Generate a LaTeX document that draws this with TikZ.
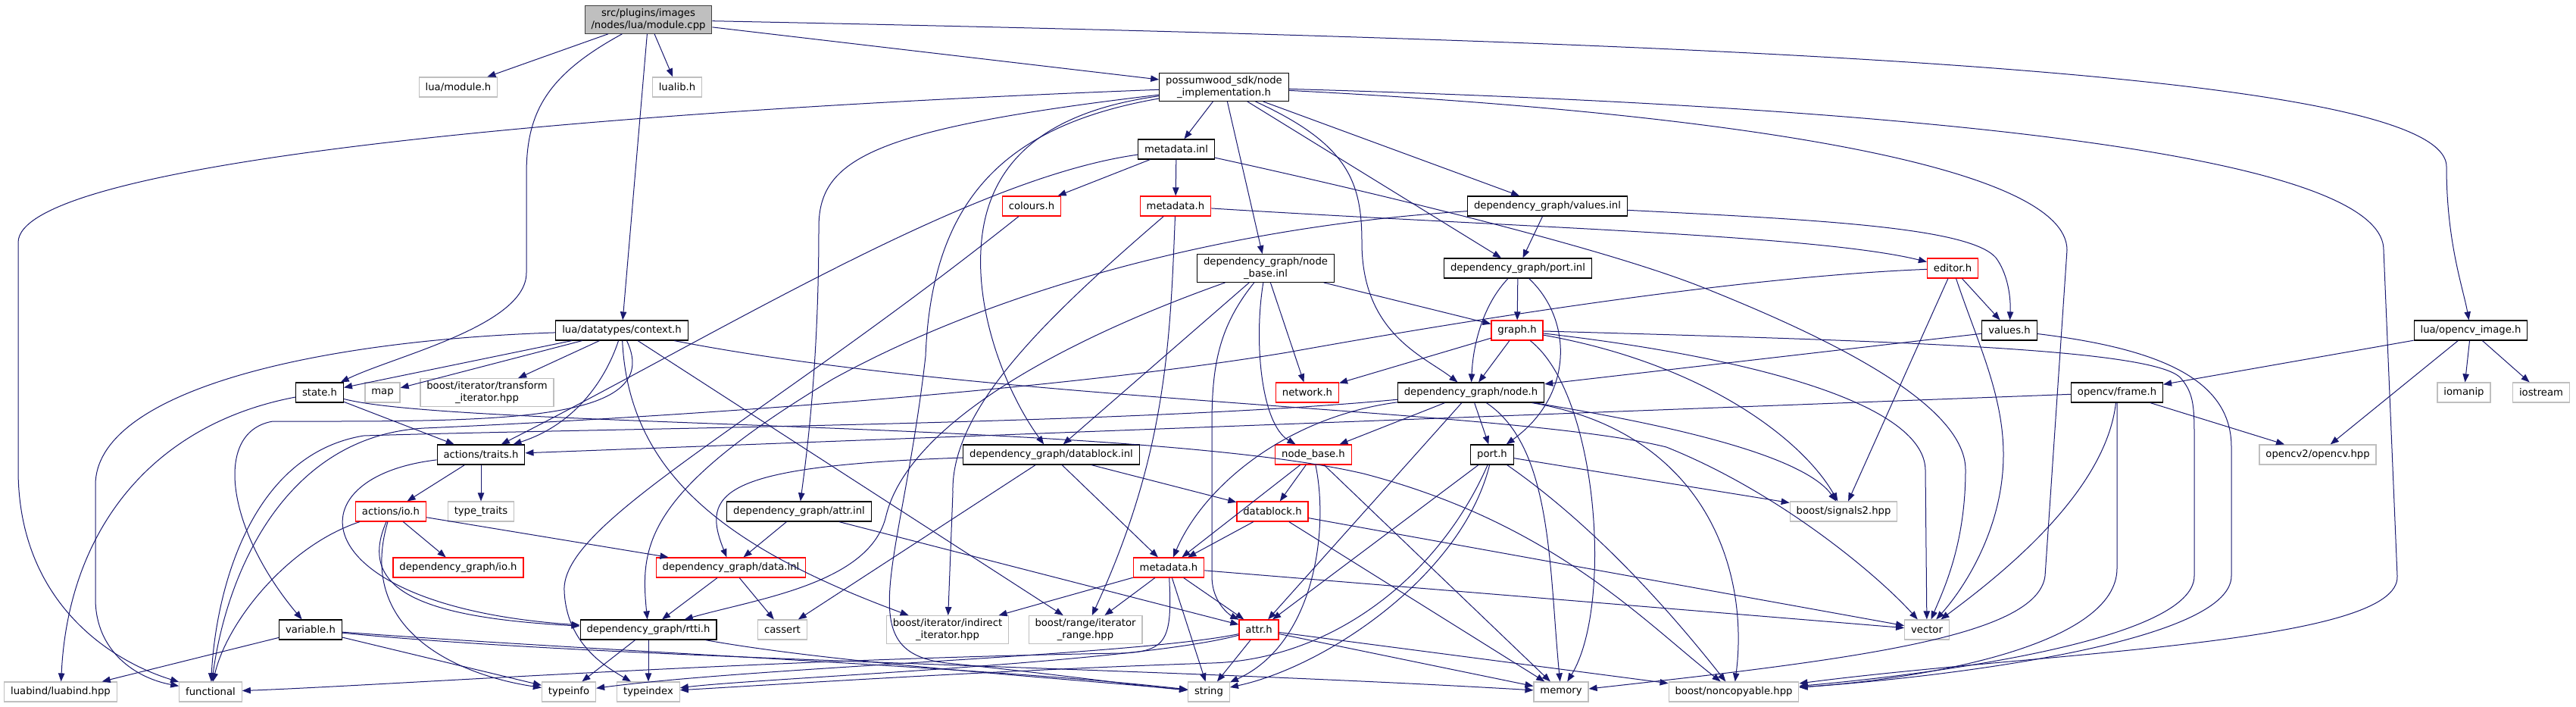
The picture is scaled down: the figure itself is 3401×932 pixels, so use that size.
\documentclass[tikz,border=0pt]{standalone}
\usepackage{xcolor}
\usepackage{fontspec}
\setmainfont{DejaVu Sans}
\usepackage{tikz}
\usetikzlibrary{arrows.meta}
\definecolor{edgeblue}{RGB}{25, 25, 112}
\definecolor{extgrey}{RGB}{191, 191, 191}
\definecolor{rootfill}{RGB}{191, 191, 191}
\definecolor{rootline}{RGB}{64, 64, 64}
\definecolor{incred}{RGB}{255, 0, 0}

\begin{document}
\begin{tikzpicture}[x=0.5pt,y=-0.5pt,
  hdr/.style={rectangle,fill=white,line width=0.6pt,inner xsep=4.2pt,inner ysep=2pt,minimum height=13pt,align=center,font=\fontsize{6.6}{7.8}\selectfont},
  doc/.style={hdr,draw=black},
  inc/.style={hdr,draw=incred},
  ext/.style={hdr,draw=extgrey},
  root/.style={hdr,draw=rootline,fill=rootfill},
  dep/.style={draw=edgeblue,line width=0.5pt,-{Triangle[length=5.5pt,width=4.2pt]}}]
\fill[white] (0,0) rectangle (3401,932);
\useasboundingbox (0,0) rectangle (3401,932);

\node[root] (main) at (856,26) {src/plugins/images\\/nodes/lua/module.cpp};
\node[ext] (lmod) at (605,115) {lua/module.h};
\node[ext] (lualib) at (894,115) {lualib.h};
\node[doc] (ni) at (1616,115) {possumwood\_sdk/node\\\_implementation.h};
\node[doc] (mi) at (1553,197) {metadata.inl};
\node[inc] (col) at (1362,272) {colours.h};
\node[inc] (m1) at (1552,272) {metadata.h};
\node[doc] (vi) at (2043,272) {dependency\_graph/values.inl};
\node[doc] (nbi) at (1671,354) {dependency\_graph/node\\\_base.inl};
\node[doc] (pi) at (2004,354) {dependency\_graph/port.inl};
\node[inc] (ed) at (2578,354) {editor.h};
\node[doc] (ctx) at (821,436) {lua/datatypes/context.h};
\node[inc] (gr) at (2003,436) {graph.h};
\node[doc] (vh) at (2653,436) {values.h};
\node[doc] (ocv) at (3262,436) {lua/opencv\_image.h};
\node[doc] (st) at (422,518) {state.h};
\node[ext] (map) at (505,518) {map};
\node[ext] (ti) at (643,518) {boost/iterator/transform\\\_iterator.hpp};
\node[inc] (net) at (1726,518) {network.h};
\node[doc] (nh) at (1942,518) {dependency\_graph/node.h};
\node[doc] (fr) at (2795,518) {opencv/frame.h};
\node[ext] (iom) at (3253,518) {iomanip};
\node[ext] (ios) at (3355,518) {iostream};
\node[doc] (tr) at (635,600) {actions/traits.h};
\node[doc] (dbi) at (1388,600) {dependency\_graph/datablock.inl};
\node[inc] (nb) at (1734,600) {node\_base.h};
\node[doc] (ph) at (1970,600) {port.h};
\node[ext] (cv2) at (3060,600) {opencv2/opencv.hpp};
\node[inc] (aio) at (516,675) {actions/io.h};
\node[ext] (tt) at (635,675) {type\_traits};
\node[doc] (ai) at (1055,675) {dependency\_graph/attr.inl};
\node[inc] (db) at (1680,675) {datablock.h};
\node[ext] (sig) at (2434,675) {boost/signals2.hpp};
\node[inc] (dio) at (605,749) {dependency\_graph/io.h};
\node[inc] (di) at (965,749) {dependency\_graph/data.inl};
\node[inc] (m2) at (1543,749) {metadata.h};
\node[doc] (var) at (410,831) {variable.h};
\node[doc] (rt) at (856,831) {dependency\_graph/rtti.h};
\node[ext] (cas) at (1033,831) {cassert};
\node[ext] (ii) at (1251,831) {boost/iterator/indirect\\\_iterator.hpp};
\node[ext] (ir) at (1433,831) {boost/range/iterator\\\_range.hpp};
\node[inc] (at) at (1662,831) {attr.h};
\node[ext] (vec) at (2544,831) {vector};
\node[ext] (lb) at (80,913) {luabind/luabind.hpp};
\node[ext] (fn) at (278,913) {functional};
\node[ext] (tinfo) at (751,913) {typeinfo};
\node[ext] (tidx) at (856,913) {typeindex};
\node[ext] (str) at (1596,913) {string};
\node[ext] (mem) at (2061,913) {memory};
\node[ext] (nc) at (2289,913) {boost/noncopyable.hpp};

% module.cpp
\draw[dep] (main) -- (lmod);
\draw[dep] (main) -- (lualib);
\draw[dep] (main) -- (ni);
\draw[dep] (main) -- (ctx);
\draw[dep] (main) .. controls (720,100) and (695,150) .. (695,230) -- (695,360) .. controls (695,430) and (520,470) .. (st);
\draw[dep] (main) .. controls (2300,55) and (3230,95) .. (3230,220) .. controls (3230,320) and (3252,380) .. (ocv);

% node_implementation.h
\draw[dep] (ni) .. controls (700,150) and (24,220) .. (24,320) -- (24,620) .. controls (24,790) and (140,870) .. (fn);
\draw[dep] (ni) .. controls (1150,170) and (1081,210) .. (1081,300) .. controls (1081,480) and (1065,600) .. (ai);
\draw[dep] (ni) .. controls (1330,165) and (1230,260) .. (1222,470) .. controls (1190,750) and (1120,860) .. (1250,875) .. controls (1400,890) and (1500,905) .. (str);
\draw[dep] (ni) .. controls (1360,150) and (1300,230) .. (1295,330) .. controls (1290,420) and (1330,520) .. (dbi);
\draw[dep] (ni) -- (mi);
\draw[dep] (ni) -- (nbi);
\draw[dep] (ni) .. controls (1780,190) and (1798,240) .. (1798,320) .. controls (1798,440) and (1880,470) .. (nh);
\draw[dep] (ni) -- (vi);
\draw[dep] (ni) -- (pi);
\draw[dep] (ni) .. controls (2300,150) and (2729,220) .. (2729,330) -- (2700,760) .. controls (2690,840) and (2450,870) .. (mem);
\draw[dep] (ni) .. controls (2500,140) and (3147,200) .. (3147,330) -- (3165,760) .. controls (3170,850) and (2700,860) .. (nc);

% metadata.inl, colours.h, metadata.h
\draw[dep] (mi) -- (col);
\draw[dep] (mi) -- (m1);
\draw[dep] (mi) .. controls (1280,235) and (950,440) .. (tr);
\draw[dep] (mi) .. controls (1750,240) and (2100,320) .. (2250,380) .. controls (2400,440) and (2595,530) .. (2595,620) .. controls (2595,720) and (2565,780) .. (vec);
\draw[dep] (col) .. controls (1000,560) and (740,690) .. (745,780) .. controls (748,850) and (800,880) .. (tidx);
\draw[dep] (m1) .. controls (1380,420) and (1255,540) .. (1258,650) -- (ii);
\draw[dep] (m1) .. controls (1545,450) and (1540,600) .. (ir);
\draw[dep] (m1) .. controls (2000,300) and (2400,310) .. (ed);

% values.inl, node_base.inl, port.inl
\draw[dep] (vi) -- (pi);
\draw[dep] (vi) .. controls (2400,290) and (2600,300) .. (2635,340) .. controls (2650,360) and (2655,390) .. (vh);
\draw[dep] (vi) .. controls (1600,300) and (1300,390) .. (1100,500) .. controls (850,650) and (845,720) .. (rt);
\draw[dep] (nbi) -- (gr);
\draw[dep] (nbi) -- (net);
\draw[dep] (nbi) -- (dbi);
\draw[dep] (nbi) .. controls (1655,450) and (1665,560) .. (nb);
\draw[dep] (nbi) .. controls (1400,450) and (1200,560) .. (1170,680) .. controls (1150,770) and (1000,790) .. (rt);
\draw[dep] (nbi) .. controls (1610,430) and (1600,480) .. (1600,560) -- (1600,760) .. controls (1600,800) and (1630,815) .. (at);
\draw[dep] (pi) -- (gr);
\draw[dep] (pi) .. controls (1960,400) and (1945,450) .. (nh);
\draw[dep] (pi) .. controls (2075,420) and (2080,520) .. (ph);

% editor.h, graph.h, values.h
\draw[dep] (ed) -- (vh);
\draw[dep] (ed) -- (sig);
\draw[dep] (ed) .. controls (2610,450) and (2645,520) .. (2645,600) .. controls (2645,700) and (2590,780) .. (vec);
\draw[dep] (ed) .. controls (2300,365) and (1950,420) .. (1700,465) .. controls (1400,515) and (900,550) .. (560,565) .. controls (380,575) and (300,750) .. (fn);
\draw[dep] (gr) -- (nh);
\draw[dep] (gr) -- (net);
\draw[dep] (gr) .. controls (2250,480) and (2380,580) .. (sig);
\draw[dep] (gr) .. controls (2300,470) and (2540,530) .. (2542,620) -- (vec);
\draw[dep] (gr) .. controls (2500,450) and (2850,460) .. (2880,500) .. controls (2897,520) and (2897,540) .. (2897,580) -- (2897,760) .. controls (2897,845) and (2550,890) .. (nc);
\draw[dep] (gr) .. controls (2110,520) and (2130,800) .. (mem);
\draw[dep] (vh) -- (nh);
\draw[dep] (vh) .. controls (2850,460) and (2946,500) .. (2946,590) -- (2946,760) .. controls (2946,850) and (2550,895) .. (nc);

% opencv_image.h, frame.h
\draw[dep] (ocv) -- (fr);
\draw[dep] (ocv) -- (cv2);
\draw[dep] (ocv) -- (iom);
\draw[dep] (ocv) -- (ios);
\draw[dep] (fr) -- (cv2);
\draw[dep] (fr) .. controls (2780,650) and (2640,760) .. (vec);
\draw[dep] (fr) -- (2795,750) .. controls (2795,850) and (2550,895) .. (nc);
\draw[dep] (fr) -- (tr);

% context.h, state.h
\draw[dep] (ctx) -- (st);
\draw[dep] (ctx) -- (map);
\draw[dep] (ctx) -- (ti);
\draw[dep] (ctx) .. controls (800,500) and (760,560) .. (tr);
\draw[dep] (ctx) .. controls (880,560) and (650,556) .. (360,556) .. controls (280,570) and (300,700) .. (var);
\draw[dep] (ctx) .. controls (400,450) and (126,520) .. (126,640) -- (126,790) .. controls (126,860) and (180,895) .. (fn);
\draw[dep] (ctx) .. controls (830,620) and (950,720) .. (ii);
\draw[dep] (ctx) -- (ir);
\draw[dep] (ctx) .. controls (1300,530) and (2000,540) .. (2200,590) .. controls (2350,650) and (2480,760) .. (vec);
\draw[dep] (st) .. controls (200,560) and (90,700) .. (lb);
\draw[dep] (st) -- (tr);
\draw[dep] (st) .. controls (600,565) and (1500,555) .. (1800,625) .. controls (2050,690) and (2170,820) .. (nc);

% actions, variable.h
\draw[dep] (tr) -- (aio);
\draw[dep] (tr) -- (tt);
\draw[dep] (tr) .. controls (380,630) and (400,800) .. (rt);
\draw[dep] (aio) -- (dio);
\draw[dep] (aio) -- (di);
\draw[dep] (aio) .. controls (380,720) and (300,820) .. (fn);
\draw[dep] (aio) .. controls (470,780) and (560,815) .. (rt);
\draw[dep] (aio) .. controls (470,830) and (600,890) .. (tinfo);
\draw[dep] (var) -- (lb);
\draw[dep] (var) -- (tinfo);
\draw[dep] (var) .. controls (800,860) and (1300,880) .. (str);
\draw[dep] (var) .. controls (800,870) and (1500,880) .. (mem);

% dependency_graph internals
\draw[dep] (ai) -- (di);
\draw[dep] (ai) -- (at);
\draw[dep] (dbi) .. controls (950,615) and (925,650) .. (di);
\draw[dep] (dbi) -- (cas);
\draw[dep] (dbi) -- (m2);
\draw[dep] (dbi) -- (db);
\draw[dep] (di) -- (rt);
\draw[dep] (di) -- (cas);
\draw[dep] (nb) -- (m2);
\draw[dep] (nb) -- (db);
\draw[dep] (nb) .. controls (1755,700) and (1735,850) .. (str);
\draw[dep] (nb) -- (mem);
\draw[dep] (db) -- (m2);
\draw[dep] (db) -- (vec);
\draw[dep] (db) -- (mem);
\draw[dep] (nh) -- (nb);
\draw[dep] (nh) -- (ph);
\draw[dep] (nh) .. controls (1700,550) and (1590,640) .. (m2);
\draw[dep] (nh) -- (at);
\draw[dep] (nh) .. controls (2050,590) and (2045,750) .. (mem);
\draw[dep] (nh) .. controls (2200,560) and (2380,600) .. (sig);
\draw[dep] (nh) .. controls (2250,570) and (2310,750) .. (nc);
\draw[dep] (nh) .. controls (1500,560) and (800,565) .. (480,575) .. controls (330,600) and (285,780) .. (fn);
\draw[dep] (ph) -- (at);
\draw[dep] (ph) -- (sig);
\draw[dep] (ph) .. controls (1900,760) and (1760,870) .. (1600,875) .. controls (1300,885) and (1000,905) .. (tidx);
\draw[dep] (ph) .. controls (1930,760) and (1750,880) .. (str);
\draw[dep] (ph) .. controls (2100,690) and (2200,800) .. (nc);
\draw[dep] (m2) -- (ii);
\draw[dep] (m2) -- (ir);
\draw[dep] (m2) -- (at);
\draw[dep] (m2) -- (str);
\draw[dep] (m2) -- (vec);
\draw[dep] (m2) .. controls (1548,845) and (1540,860) .. (1480,862) .. controls (1000,870) and (500,905) .. (fn);
\draw[dep] (at) .. controls (1500,875) and (1000,895) .. (tidx);
\draw[dep] (at) .. controls (1500,865) and (1000,880) .. (tinfo);
\draw[dep] (at) -- (str);
\draw[dep] (at) -- (mem);
\draw[dep] (at) -- (nc);
\draw[dep] (rt) -- (tidx);
\draw[dep] (rt) -- (tinfo);
\draw[dep] (rt) .. controls (1100,875) and (1400,895) .. (str);
\end{tikzpicture}
\end{document}
